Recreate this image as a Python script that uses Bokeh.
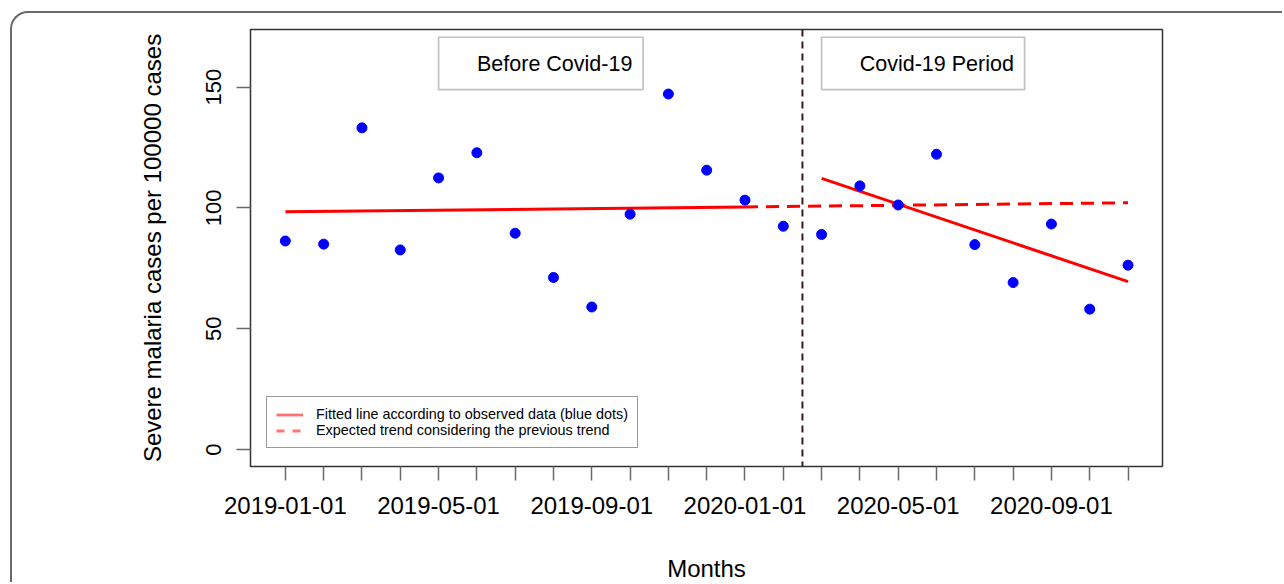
from bokeh.plotting import figure
from bokeh.models import (Range1d, FixedTicker, Span, BoxAnnotation, Label,
                          Legend, LegendItem)
from bokeh.embed import file_html
from bokeh.resources import INLINE

# Monthly severe malaria cases per 100000 cases
months = ["2019-01", "2019-02", "2019-03", "2019-04", "2019-05", "2019-06",
          "2019-07", "2019-08", "2019-09", "2019-10", "2019-11", "2019-12",
          "2020-01", "2020-02", "2020-03", "2020-04", "2020-05", "2020-06",
          "2020-07", "2020-08", "2020-09", "2020-10", "2020-11"]
cases = [86.3, 85.0, 133.1, 82.6, 112.4, 122.8, 89.5, 71.2, 59.0, 97.4, 147.1, 115.6,
         103.2, 92.4, 89.0, 109.1, 101.2, 122.2, 84.8, 69.1, 93.3, 58.1, 76.3]

# Segmented regression lines (month index, value)
pre_fit_x = [0, 12]
pre_fit_y = [98.4, 100.4]
expected_x = [12, 22]
expected_y = [100.4, 102.1]
post_fit_x = [14, 22]
post_fit_y = [112.2, 69.5]

covid_start = 13.5          # boundary between 2020-02 and 2020-03
y_ticks = [0, 50, 100, 150]
label_every = 4

FONT = "Liberation Sans"
idx = list(range(len(months)))

p = figure(width=1272, height=571,
           x_range=Range1d(-0.91, 22.9), y_range=Range1d(-7.0, 173.8),
           output_backend="svg", toolbar_location=None,
           min_border_left=238, min_border_right=122,
           min_border_top=16, min_border_bottom=117,
           margin=(11, 0, 0, 10),
           styles={"border-left": "2px solid #6a6a6a", "border-top": "2px solid #6a6a6a",
                   "border-top-left-radius": "18px"})
p.border_fill_color = None
p.background_fill_color = "white"
p.grid.visible = False
p.outline_line_color = "#333333"
p.outline_line_width = 1.5

# x axis: a tick every month, a label every fourth month
p.xaxis.ticker = FixedTicker(ticks=idx)
p.xaxis.major_label_overrides = {i: (m + "-01" if i % label_every == 0 else "")
                                 for i, m in enumerate(months)}
p.yaxis.ticker = FixedTicker(ticks=y_ticks)
p.yaxis.major_label_orientation = "vertical"

for ax in (p.xaxis, p.yaxis):
    ax.axis_line_color = None
    ax.major_tick_in = 0
    ax.major_tick_out = 14
    ax.major_tick_line_color = "#6a6a6a"
    ax.major_tick_line_width = 1.5
    ax.minor_tick_line_color = None
    ax.major_label_text_font = FONT
    ax.major_label_text_color = "black"
    ax.axis_label_text_font = FONT
    ax.axis_label_text_font_style = "normal"
    ax.axis_label_text_color = "black"
    ax.axis_label_text_font_size = "24px"

p.xaxis.major_label_text_font_size = "24px"
p.yaxis.major_label_text_font_size = "22px"
p.xaxis.major_label_standoff = 16
p.yaxis.major_label_standoff = 15
p.xaxis.axis_label = "Months"
p.yaxis.axis_label = "Severe malaria cases per 100000 cases"
p.xaxis.axis_label_standoff = 38
p.yaxis.axis_label_standoff = 38

# Period boxes
for left, right, text_x, text in [(4.0, 9.34, 9.06, "Before Covid-19"),
                                  (14.0, 19.3, 19.02, "Covid-19 Period")]:
    p.add_layout(BoxAnnotation(left=left, right=right, top=170.6, bottom=148.9,
                               fill_color="white", fill_alpha=1.0,
                               line_color="#333333", line_width=1.7))
    p.add_layout(Label(x=text_x, y=159.7, text=text, text_align="right",
                       text_baseline="middle", text_font=FONT,
                       text_font_size="21.5px", text_color="black"))

# Start of the Covid-19 period
p.add_layout(Span(location=covid_start, dimension="height", line_color="#3a1c1c",
                  line_width=2, line_dash="7 5"))

# Trend lines
p.line(pre_fit_x, pre_fit_y, line_color="red", line_width=3)
p.line(expected_x, expected_y, line_color="red", line_width=3, line_dash="13 8")
p.line(post_fit_x, post_fit_y, line_color="red", line_width=3)

# Observed data
p.scatter(idx, cases, size=10, color="blue")

# Legend entries: stand-in lines placed outside the visible range
off_x = [-5, -4]
off_y = [-50, -50]
leg_solid = p.line(off_x, off_y, line_color="red", line_alpha=0.55, line_width=2.8)
leg_dash = p.line(off_x, off_y, line_color="red", line_alpha=0.55,
                  line_width=2.8, line_dash="8 8")
legend = Legend(items=[
    LegendItem(label="Fitted line according to observed data (blue dots)", renderers=[leg_solid]),
    LegendItem(label="Expected trend considering the previous trend", renderers=[leg_dash]),
], location=(16, 18))
legend.margin = 0
legend.padding = 9
legend.spacing = 0
legend.glyph_width = 27
legend.glyph_height = 15
legend.label_height = 15
legend.label_standoff = 13
legend.label_text_font = FONT
legend.label_text_font_size = "14.4px"
legend.label_text_color = "black"
legend.border_line_color = "#333333"
legend.border_line_width = 1.5
legend.background_fill_color = "white"
legend.background_fill_alpha = 1.0
p.add_layout(legend)

open("out.html", "w").write(file_html(p, INLINE))
